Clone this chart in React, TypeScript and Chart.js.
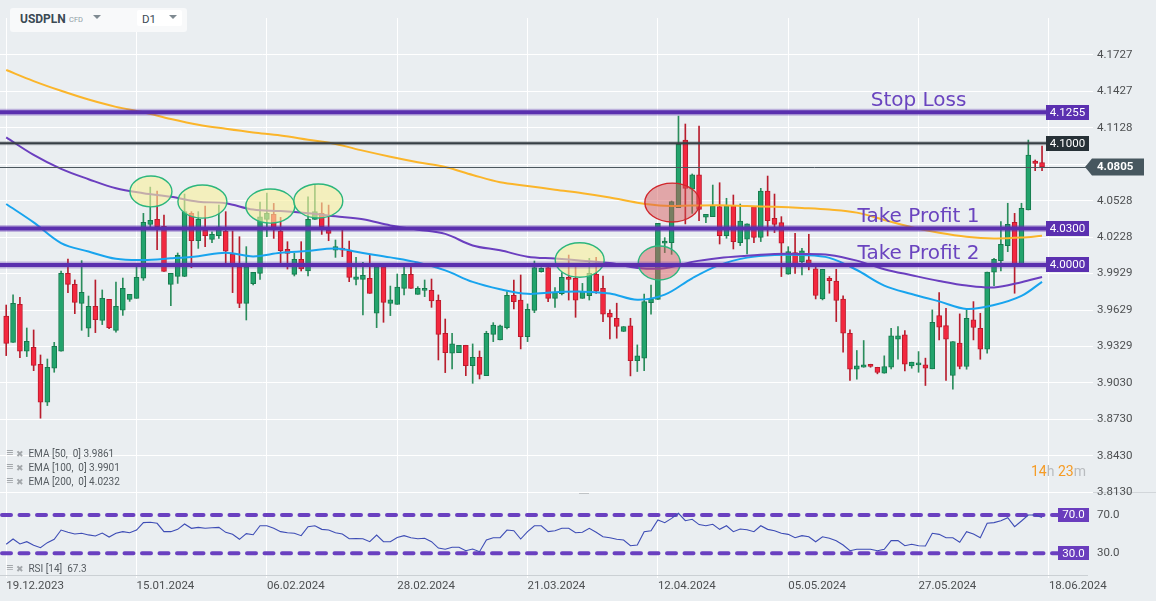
import React, { useEffect, useRef } from 'react';
import { Chart, registerables } from 'chart.js';

Chart.register(...registerables);

// ---------- data ----------
const dateLabels = ['19.12.2023', '15.01.2024', '06.02.2024', '28.02.2024', '21.03.2024', '12.04.2024', '05.05.2024', '27.05.2024', '18.06.2024'];
const dateTickDays = [0, 19, 38, 57, 76, 95, 114, 133, 152];
const priceTicks = [3.813, 3.843, 3.873, 3.903, 3.9329, 3.9629, 3.9929, 4.0228, 4.0528, 4.0828, 4.1128, 4.1427, 4.1727];

const opens = [
  3.9580, 3.9363, 3.9676, 3.9290, 3.9322, 3.9183, 3.8870, 3.9150, 3.9290, 3.9931,
  3.9840, 3.9684, 3.9479, 3.9659, 3.9544, 3.9717, 3.9462, 3.9627, 3.9717, 3.9725,
  3.9890, 4.0333, 4.0374, 4.0317, 3.9840, 3.9906, 3.9906, 4.0424, 4.0199, 4.0287,
  4.0210, 4.0240, 4.0279, 4.0090, 3.9985, 3.9684, 3.9846, 3.9931, 4.0374, 4.0416,
  4.0279, 4.0128, 3.9922, 4.0046, 3.9950, 4.0374, 4.0424, 4.0287, 4.0122, 4.0136,
  4.0114, 3.9881, 3.9881, 3.9890, 3.9602, 3.9985, 3.9684, 3.9676, 3.9807, 3.9922,
  3.9758, 3.9791, 3.9791, 3.9709, 3.9437, 3.9273, 3.9278, 3.9339, 3.9172, 3.9240,
  3.9089, 3.9429, 3.9383, 3.9484, 3.9750, 3.9711, 3.9410, 3.9626, 3.9944, 3.9977,
  3.9725, 3.9763, 3.9898, 3.9890, 3.9725, 3.9747, 3.9925, 3.9808, 3.9602, 3.9561,
  3.9452, 3.9498, 3.9213, 3.9233, 3.9690, 3.9717, 4.0178, 4.0183, 4.0471, 4.1027,
  4.0622, 4.0740, 4.0392, 4.0397, 4.0479, 4.0241, 4.0485, 4.0183, 4.0211, 4.0479,
  4.0227, 4.0608, 4.0383, 4.0348, 3.9923, 4.0101, 4.0024, 4.0041, 3.9967, 3.9720,
  3.9890, 3.9868, 3.9718, 3.9438, 3.9142, 3.9158, 3.9183, 3.9158, 3.9109, 3.9158,
  3.9389, 3.9424, 3.9170, 3.9178, 3.9178, 3.9145, 3.9583, 3.9501, 3.9090, 3.9356,
  3.9164, 3.9548, 3.9479, 3.9306, 3.9940, 4.0035, 4.0159, 4.0350, 4.0000, 4.0452,
  4.0855, 4.0841,
];
const highs = [
  3.9670, 3.9753, 3.9733, 3.9481, 3.9465, 3.9259, 3.9226, 3.9363, 3.9950, 4.0048,
  3.9876, 4.0035, 3.9744, 3.9876, 3.9794, 3.9717, 3.9859, 3.9892, 3.9758, 4.0013,
  4.0424, 4.0640, 4.0607, 4.0410, 3.9931, 4.0098, 4.0583, 4.0438, 4.0438, 4.0484,
  4.0273, 4.0492, 4.0438, 4.0279, 4.0232, 4.0150, 3.9939, 4.0517, 4.0591, 4.0506,
  4.0391, 4.0191, 4.0095, 4.0191, 4.0561, 4.0662, 4.0511, 4.0492, 4.0205, 4.0287,
  4.0196, 4.0062, 4.0021, 4.0081, 3.9985, 3.9985, 3.9826, 3.9925, 3.9985, 4.0013,
  3.9821, 3.9876, 3.9884, 3.9753, 3.9555, 3.9437, 3.9339, 3.9339, 3.9350, 3.9292,
  3.9454, 3.9525, 3.9506, 3.9780, 3.9876, 3.9917, 3.9679, 4.0032, 3.9977, 3.9977,
  3.9813, 3.9936, 4.0081, 3.9980, 3.9848, 4.0054, 4.0062, 3.9909, 3.9630, 3.9685,
  3.9493, 3.9561, 3.9342, 3.9761, 3.9835, 4.0342, 4.0224, 4.0526, 4.1224, 4.1159,
  4.0748, 4.1142, 4.0416, 4.0657, 4.0676, 4.0548, 4.0575, 4.0501, 4.0337, 4.0479,
  4.0630, 4.0731, 4.0583, 4.0397, 4.0150, 4.0260, 4.0137, 4.0252, 4.0013, 3.9964,
  3.9904, 3.9964, 3.9745, 3.9465, 3.9296, 3.9378, 3.9183, 3.9158, 3.9252, 3.9479,
  3.9493, 3.9460, 3.9200, 3.9287, 3.9233, 3.9630, 3.9772, 3.9643, 3.9370, 3.9597,
  3.9630, 3.9698, 3.9602, 3.9940, 4.0054, 4.0356, 4.0507, 4.0424, 4.0507, 4.1027,
  4.0863, 4.0978,
];
const lows = [
  3.9254, 3.9363, 3.9237, 3.9246, 3.9130, 3.8739, 3.8843, 3.9117, 3.9290, 3.9772,
  3.9599, 3.9462, 3.9410, 3.9443, 3.9509, 3.9476, 3.9446, 3.9585, 3.9700, 3.9725,
  3.9873, 4.0314, 4.0125, 3.9947, 3.9665, 3.9848, 3.9903, 3.9977, 4.0136, 4.0150,
  4.0183, 4.0218, 4.0018, 3.9772, 3.9648, 3.9547, 3.9835, 3.9881, 4.0232, 4.0218,
  4.0016, 3.9966, 3.9909, 3.9950, 3.9909, 4.0374, 4.0251, 4.0199, 4.0062, 4.0068,
  3.9862, 3.9835, 3.9588, 3.9766, 3.9484, 3.9528, 3.9583, 3.9676, 3.9753, 3.9807,
  3.9758, 3.9739, 3.9651, 3.9218, 3.9114, 3.9144, 3.9278, 3.9089, 3.9026, 3.9062,
  3.9089, 3.9369, 3.9383, 3.9473, 3.9637, 3.9309, 3.9369, 3.9607, 3.9940, 3.9698,
  3.9651, 3.9753, 3.9711, 3.9569, 3.9725, 3.9711, 3.9766, 3.9534, 3.9391, 3.9397,
  3.9452, 3.9087, 3.9123, 3.9131, 3.9594, 3.9717, 4.0101, 4.0087, 4.0471, 4.0337,
  4.0424, 4.0364, 4.0348, 4.0397, 4.0172, 4.0219, 4.0131, 4.0159, 4.0090, 4.0183,
  4.0192, 4.0238, 4.0266, 3.9904, 3.9923, 3.9931, 3.9918, 3.9959, 3.9720, 3.9712,
  3.9767, 3.9534, 3.9282, 3.9049, 3.9060, 3.9158, 3.9158, 3.9104, 3.9109, 3.9145,
  3.9224, 3.9128, 3.9150, 3.9117, 3.9008, 3.9145, 3.9383, 3.9049, 3.8978, 3.9145,
  3.9142, 3.9383, 3.9224, 3.9274, 3.9830, 3.9950, 4.0109, 3.9767, 4.0000, 4.0452,
  4.0775, 4.0775,
];
const closes = [
  3.9355, 3.9684, 3.9290, 3.9372, 3.9174, 3.8870, 3.9158, 3.9331, 3.9931, 3.9840,
  3.9692, 3.9774, 3.9659, 3.9550, 3.9725, 3.9484, 3.9659, 3.9807, 3.9758, 3.9898,
  4.0350, 4.0366, 4.0314, 3.9947, 3.9931, 4.0079, 4.0438, 4.0199, 4.0374, 4.0240,
  4.0251, 4.0314, 4.0114, 3.9983, 3.9684, 3.9985, 3.9939, 4.0396, 4.0424, 4.0287,
  4.0117, 4.0095, 4.0046, 3.9966, 4.0374, 4.0438, 4.0314, 4.0259, 4.0150, 4.0122,
  3.9898, 3.9901, 3.9914, 3.9766, 3.9985, 3.9692, 3.9712, 3.9818, 3.9922, 3.9807,
  3.9807, 3.9807, 3.9703, 3.9429, 3.9278, 3.9350, 3.9339, 3.9172, 3.9240, 3.9100,
  3.9437, 3.9506, 3.9498, 3.9750, 3.9698, 3.9410, 3.9635, 3.9977, 3.9972, 3.9725,
  3.9772, 3.9898, 3.9881, 3.9709, 3.9780, 3.9931, 3.9785, 3.9594, 3.9570, 3.9493,
  3.9493, 3.9213, 3.9252, 3.9698, 3.9717, 4.0342, 4.0197, 4.0520, 4.0992, 4.0630,
  4.0740, 4.0457, 4.0416, 4.0485, 4.0241, 4.0485, 4.0192, 4.0361, 4.0337, 4.0227,
  4.0608, 4.0364, 4.0334, 4.0178, 4.0109, 3.9986, 4.0115, 3.9999, 3.9748, 3.9964,
  3.9871, 3.9707, 3.9438, 3.9142, 3.9169, 3.9178, 3.9164, 3.9115, 3.9164, 3.9416,
  3.9416, 3.9183, 3.9200, 3.9191, 3.9150, 3.9528, 3.9487, 3.9389, 3.9370, 3.9164,
  3.9561, 3.9485, 3.9306, 3.9940, 4.0046, 4.0170, 4.0334, 4.0000, 4.0466, 4.0904,
  4.0835, 4.0805,
];

const emaDays = [0, 4, 8, 12, 16, 20, 24, 28, 32, 36, 40, 44, 48, 52, 56, 60, 64, 68, 72, 76, 80, 84, 88, 92, 96, 100, 104, 108, 112, 116, 120, 124, 128, 132, 136, 140, 144, 148, 151];
const ema50 = [4.0501, 4.0350, 4.0180, 4.0110, 4.0050, 4.0040, 4.0054, 4.0072, 4.0100, 4.0070, 4.0100, 4.0115, 4.0135, 4.0098, 4.0062, 4.0020, 3.9955, 3.9860, 3.9800, 3.9762, 3.9775, 3.9780, 3.9765, 3.9713, 3.9755, 3.9890, 4.0000, 4.0060, 4.0082, 4.0081, 4.0058, 3.9958, 3.9830, 3.9760, 3.9700, 3.9638, 3.9670, 3.9745, 3.9861];
const ema100 = [4.1049, 4.0905, 4.0790, 4.0705, 4.0630, 4.0590, 4.0560, 4.0520, 4.0507, 4.0455, 4.0443, 4.0425, 4.0400, 4.0375, 4.0325, 4.0290, 4.0255, 4.0160, 4.0120, 4.0068, 4.0052, 4.0035, 4.0015, 3.9975, 3.9972, 4.0025, 4.0057, 4.0075, 4.0090, 4.0090, 4.0082, 4.0035, 3.9965, 3.9915, 3.9868, 3.9830, 3.9815, 3.9858, 3.9901];
const ema200 = [4.1603, 4.1512, 4.1432, 4.1360, 4.1300, 4.1255, 4.1200, 4.1153, 4.1120, 4.1090, 4.1065, 4.1030, 4.0995, 4.0940, 4.0890, 4.0845, 4.0805, 4.0740, 4.0680, 4.0650, 4.0618, 4.0590, 4.0555, 4.0512, 4.0486, 4.0488, 4.0490, 4.0484, 4.0478, 4.0468, 4.0455, 4.0430, 4.0370, 4.0310, 4.0265, 4.0232, 4.0218, 4.0225, 4.0240];

const rsi14 = [
  39.4, 44.9, 39.7, 42.1, 38.5, 35.8, 41.1, 44.6, 54.3, 52.0,
  50.1, 50.9, 49.2, 48.1, 51.2, 47.0, 50.9, 52.6, 51.5, 54.3,
  62.0, 62.4, 61.3, 52.6, 52.6, 55.0, 60.6, 56.1, 57.1, 56.1,
  56.6, 57.1, 51.9, 49.8, 44.6, 50.5, 49.4, 58.8, 58.8, 56.1,
  52.6, 51.5, 51.0, 48.4, 57.8, 58.8, 55.0, 54.3, 51.5, 50.1,
  45.2, 45.5, 45.2, 42.1, 49.1, 42.1, 42.1, 46.5, 48.4, 46.3,
  45.2, 45.7, 42.1, 35.5, 34.2, 36.3, 36.3, 32.7, 34.5, 31.7,
  43.9, 46.3, 46.3, 54.3, 53.6, 44.9, 52.6, 58.8, 58.8, 52.6,
  53.6, 56.1, 56.1, 51.5, 52.0, 56.1, 51.9, 47.3, 46.3, 44.6,
  43.9, 37.9, 38.7, 52.6, 53.6, 64.8, 62.0, 66.5, 71.8, 64.0,
  65.5, 60.0, 58.8, 60.3, 55.0, 58.8, 52.6, 55.4, 54.6, 52.6,
  58.8, 55.0, 53.6, 50.9, 49.8, 46.3, 48.4, 47.3, 42.1, 47.3,
  45.7, 43.2, 38.7, 32.7, 34.2, 34.2, 34.2, 32.7, 34.2, 43.2,
  43.2, 37.9, 39.4, 37.9, 37.6, 50.9, 49.8, 46.3, 46.3, 41.5,
  52.6, 50.1, 46.3, 61.3, 62.0, 64.0, 67.2, 57.8, 63.7, 70.0,
  70.0, 67.3,
];
const rsiLevels = [70, 30];

const levelPrices = [4.1255, 4.03, 4.0];
const levelNames = ['Stop Loss', 'Take Profit 1', 'Take Profit 2'];
const markPrice = 4.1;
const lastPrice = 4.0805;

// highlighted zones (centre day / price, half-size in days / price)
const zoneDay = [21.1, 28.6, 38.5, 45.5, 83.6, 97.1, 95.2];
const zonePrice = [4.0604, 4.0521, 4.0484, 4.0526, 4.004, 4.0513, 4.0016];
const zoneHalfDays = [3.06, 3.57, 3.57, 3.57, 3.57, 4.0, 3.06];
const zoneHalfPrice = [0.0127, 0.0136, 0.014, 0.014, 0.0142, 0.016, 0.014];
const zoneKind = ['yellow', 'yellow', 'yellow', 'yellow', 'yellow', 'redEdge', 'greenEdge'];

// ---------- axis ranges ----------
const X_MIN = -0.904;
const X_MAX = 152.16;
const Y_MIN = 3.8132;
const Y_MAX = 4.2031;
const RSI_MIN = 7.35;
const RSI_MAX = 94;

const FONT = 'Roboto';
const AXIS_TEXT = '#4d4f51';
const PURPLE = '#5a2fae';

function boxLabel(ctx: CanvasRenderingContext2D, text: string, x0: number, cy: number, w: number, h: number, bg: string, bold = false) {
  ctx.fillStyle = bg;
  ctx.fillRect(x0, Math.round(cy - h / 2), w, h);
  ctx.fillStyle = '#ffffff';
  ctx.font = `${bold ? 'bold ' : ''}11.5px ${FONT}`;
  ctx.textAlign = 'center';
  ctx.textBaseline = 'middle';
  ctx.fillText(text, x0 + w / 2, cy + 0.5);
}

function hLine(ctx: CanvasRenderingContext2D, x0: number, x1: number, y: number, width: number, color: string) {
  ctx.beginPath();
  ctx.moveTo(x0, y);
  ctx.lineTo(x1, y);
  ctx.lineWidth = width;
  ctx.strokeStyle = color;
  ctx.stroke();
}

const mainOverlay = {
  id: 'mainOverlay',
  afterDatasetsDraw(chart: any) {
    const { ctx, chartArea: a, scales } = chart;
    const x = scales.x;
    const y = scales.y;
    ctx.save();
    ctx.beginPath();
    ctx.rect(a.left, a.top, a.right - a.left, a.bottom - a.top);
    ctx.clip();
    zoneDay.forEach((d, k) => {
      const cx = x.getPixelForValue(d);
      const cy = y.getPixelForValue(zonePrice[k]);
      const rx = Math.abs(x.getPixelForValue(d + zoneHalfDays[k]) - cx);
      const ry = Math.abs(y.getPixelForValue(zonePrice[k] - zoneHalfPrice[k]) - cy);
      ctx.beginPath();
      ctx.ellipse(cx, cy, rx, ry, 0, 0, Math.PI * 2);
      const kind = zoneKind[k];
      ctx.fillStyle = kind === 'yellow' ? 'rgba(248,239,156,0.62)' : 'rgba(214,84,84,0.47)';
      ctx.fill();
      ctx.lineWidth = 1.4;
      ctx.strokeStyle = kind === 'redEdge' ? '#d0262c' : '#2cb67d';
      ctx.stroke();
    });
    ctx.restore();

    ctx.save();
    const boxLeft = a.right - 4;
    // last price line
    const ly = Math.round(y.getPixelForValue(lastPrice)) + 0.5;
    hLine(ctx, a.left, a.right + 36, ly, 1, '#4c575e');
    // 4.1000 mark line
    const my = y.getPixelForValue(markPrice);
    hLine(ctx, a.left, boxLeft, my, 4, 'rgba(55,64,70,0.3)');
    hLine(ctx, a.left, boxLeft, my, 2, '#373f45');
    // trade levels
    levelPrices.forEach((p) => {
      const py = y.getPixelForValue(p);
      hLine(ctx, a.left, boxLeft, py, 7, 'rgba(92,50,176,0.32)');
      hLine(ctx, a.left, boxLeft, py, 4, PURPLE);
    });
    ctx.font = '20px "DejaVu Sans"';
    ctx.fillStyle = '#6a44bf';
    ctx.textAlign = 'center';
    ctx.textBaseline = 'alphabetic';
    levelPrices.forEach((p, k) => {
      ctx.fillText(levelNames[k], x.getPixelForValue(133), y.getPixelForValue(p) - 6);
    });
    ctx.restore();
  },
  afterDraw(chart: any) {
    const { ctx, chartArea: a, scales } = chart;
    const y = scales.y;
    ctx.save();
    const boxLeft = a.right - 4;
    levelPrices.forEach((p) => boxLabel(ctx, p.toFixed(4), boxLeft, y.getPixelForValue(p), 43, 15, '#5b30b0'));
    boxLabel(ctx, markPrice.toFixed(4), boxLeft, y.getPixelForValue(markPrice), 43, 15, '#263036');
    // current price arrow label
    const cy = y.getPixelForValue(lastPrice);
    const tip = a.right + 35;
    ctx.fillStyle = '#47575f';
    ctx.beginPath();
    ctx.moveTo(tip, cy);
    ctx.lineTo(tip + 7, cy - 8.5);
    ctx.lineTo(a.right + 94, cy - 8.5);
    ctx.lineTo(a.right + 94, cy + 8.5);
    ctx.lineTo(tip + 7, cy + 8.5);
    ctx.closePath();
    ctx.fill();
    ctx.fillStyle = '#ffffff';
    ctx.font = `bold 11.5px ${FONT}`;
    ctx.textAlign = 'left';
    ctx.textBaseline = 'middle';
    ctx.fillText(lastPrice.toFixed(4), a.right + 47, cy + 0.5);
    ctx.restore();
  },
};

const rsiOverlay = {
  id: 'rsiOverlay',
  beforeDatasetsDraw(chart: any) {
    const { ctx, chartArea: a, scales } = chart;
    const y = scales.y;
    ctx.save();
    ctx.setLineDash([9, 8.5]);
    ctx.lineCap = 'round';
    rsiLevels.forEach((v) => {
      hLine(ctx, a.left + 2, a.right + 8, y.getPixelForValue(v), 4, '#6a40c0');
    });
    ctx.restore();
  },
  afterDraw(chart: any) {
    const { ctx, chartArea: a, scales, width } = chart;
    const y = scales.y;
    ctx.save();
    rsiLevels.forEach((v) => boxLabel(ctx, v.toFixed(1), a.right + 8, y.getPixelForValue(v), 31, 14, '#6a3dbd'));
    hLine(ctx, 0, width, 0.5, 1, '#d2d6da');
    ctx.fillStyle = '#bfc3c6';
    ctx.fillRect(579, 0, 10, 2);
    hLine(ctx, a.left, a.right + 38, Math.round(a.bottom) + 0.5, 1, '#cbd0d4');
    ctx.restore();
  },
};

export default function App() {
  const mainRef = useRef<HTMLCanvasElement>(null);
  const rsiRef = useRef<HTMLCanvasElement>(null);

  useEffect(() => {
    const days = opens.map((_, i) => i);
    const up = days.map((i) => closes[i] >= opens[i]);

    const main = new Chart(mainRef.current as HTMLCanvasElement, {
      type: 'bar',
      data: {
        datasets: [
          {
            type: 'line', label: 'EMA 200',
            data: emaDays.map((d, k) => ({ x: d, y: ema200[k] })),
            borderColor: '#fbb52a', borderWidth: 2, pointRadius: 0, tension: 0.35, order: 1,
          } as any,
          {
            type: 'line', label: 'EMA 100',
            data: emaDays.map((d, k) => ({ x: d, y: ema100[k] })),
            borderColor: '#6b3fbf', borderWidth: 2, pointRadius: 0, tension: 0.35, order: 1,
          },
          {
            type: 'line', label: 'EMA 50',
            data: emaDays.map((d, k) => ({ x: d, y: ema50[k] })),
            borderColor: '#18a4ee', borderWidth: 2, pointRadius: 0, tension: 0.35, order: 1,
          },
          {
            type: 'bar', label: 'body',
            data: days.map((i) => ({ x: i, y: [opens[i], closes[i]] })),
            backgroundColor: up.map((u) => (u ? '#22a36c' : '#f3283f')),
            borderColor: up.map((u) => (u ? '#177a4d' : '#bb1a2c')),
            borderWidth: 1, borderSkipped: false, barThickness: 5, minBarLength: 2,
            grouped: false, order: 2,
          },
          {
            type: 'bar', label: 'wick',
            data: days.map((i) => ({ x: i, y: [lows[i], highs[i]] })),
            backgroundColor: up.map((u) => (u ? '#2a8d5c' : '#b81d2d')),
            borderWidth: 0, barThickness: 1, grouped: false, order: 3,
          },
        ],
      } as any,
      options: {
        responsive: false,
        animation: false,
        events: [],
        layout: { padding: { top: 18, bottom: 8, left: 0, right: 0 } },
        plugins: { legend: { display: false }, tooltip: { enabled: false } },
        scales: {
          x: {
            type: 'linear', min: X_MIN, max: X_MAX, offset: false,
            grid: { color: '#ffffff', lineWidth: 1, drawTicks: false, offset: false },
            border: { display: false },
            ticks: { display: false },
            afterBuildTicks: (s: any) => { s.ticks = dateTickDays.map((v) => ({ value: v })); },
            afterFit: (s: any) => { s.height = 0; s.paddingLeft = 0; s.paddingRight = 0; },
          },
          y: {
            type: 'linear', position: 'right', min: Y_MIN, max: Y_MAX,
            grid: { color: '#ffffff', lineWidth: 1, drawTicks: true, tickLength: 43 },
            border: { display: false },
            ticks: {
              padding: 4, color: AXIS_TEXT, font: { family: FONT, size: 11.5 }, autoSkip: false,
              callback: (v: any) => Number(v).toFixed(4),
            },
            afterBuildTicks: (s: any) => { s.ticks = priceTicks.map((v) => ({ value: v })); },
            afterFit: (s: any) => { s.width = 106; s.paddingTop = 0; s.paddingBottom = 0; },
          },
        },
      } as any,
      plugins: [mainOverlay],
    });

    const sub = new Chart(rsiRef.current as HTMLCanvasElement, {
      type: 'line',
      data: {
        datasets: [
          {
            label: 'RSI 14',
            data: days.map((i) => ({ x: i, y: rsi14[i] })),
            borderColor: '#3d4cb5', borderWidth: 1.1, pointRadius: 0, tension: 0,
          },
        ],
      },
      options: {
        responsive: false,
        animation: false,
        events: [],
        layout: { padding: 0 },
        plugins: { legend: { display: false }, tooltip: { enabled: false } },
        scales: {
          x: {
            type: 'linear', min: X_MIN, max: X_MAX, offset: false,
            grid: { color: '#ffffff', lineWidth: 1, drawTicks: true, tickLength: 3 },
            border: { display: false },
            ticks: {
              align: 'start', padding: 1, color: AXIS_TEXT, font: { family: FONT, size: 11.5 },
              autoSkip: false, maxRotation: 0, minRotation: 0,
              callback: (_v: any, i: number) => dateLabels[i],
            },
            afterBuildTicks: (s: any) => { s.ticks = dateTickDays.map((v) => ({ value: v })); },
            afterFit: (s: any) => { s.height = 26; s.paddingLeft = 0; s.paddingRight = 0; },
          },
          y: {
            type: 'linear', position: 'right', min: RSI_MIN, max: RSI_MAX,
            grid: { display: false, drawTicks: false },
            border: { display: false },
            ticks: {
              padding: 47, color: AXIS_TEXT, font: { family: FONT, size: 11.5 },
              callback: (v: any) => Number(v).toFixed(1),
            },
            afterBuildTicks: (s: any) => { s.ticks = rsiLevels.map((v) => ({ value: v })); },
            afterFit: (s: any) => { s.width = 106; s.paddingTop = 0; s.paddingBottom = 0; },
          },
        },
      } as any,
      plugins: [rsiOverlay],
    });

    return () => {
      main.destroy();
      sub.destroy();
    };
  }, []);

  const legendRow = (text: string, top: number) => (
    <div key={text} style={{ position: 'absolute', left: 6, top, height: 14, lineHeight: '14px', whiteSpace: 'pre', fontSize: 10, color: '#555b60' }}>
      <span style={{ color: '#a3a7ab', fontSize: 13, fontWeight: 'bold' }}>≡</span>
      <span style={{ color: '#a3a7ab', fontSize: 9, marginLeft: 3 }}>✖</span>
      <span style={{ marginLeft: 4 }}>{text}</span>
    </div>
  );

  const caret = (left: number) => (
    <div style={{ position: 'absolute', left, top: 15, width: 0, height: 0, borderLeft: '4px solid transparent', borderRight: '4px solid transparent', borderTop: '4px solid #7f8a91' }} />
  );

  return (
    <div style={{ position: 'fixed', left: 0, top: 0, width: 1156, height: 601, background: '#eaeef1', overflow: 'hidden', fontFamily: FONT }}>
      <canvas ref={rsiRef} width={1156} height={109} style={{ position: 'absolute', left: 0, top: 492, display: 'block' }} />
      <canvas ref={mainRef} width={1156} height={500} style={{ position: 'absolute', left: 0, top: 0, display: 'block' }} />

      <div style={{ position: 'absolute', left: 10, top: 8, width: 177, height: 24, background: '#f8f9fa', borderRadius: 3 }} />
      <div style={{ position: 'absolute', left: 137, top: 10, width: 45, height: 16, background: '#ffffff', borderRadius: 2 }} />
      <div style={{ position: 'absolute', left: 20, top: 12, lineHeight: '15px', fontSize: 12, fontWeight: 'bold', color: '#3b4a54' }}>USDPLN</div>
      <div style={{ position: 'absolute', left: 69, top: 14, lineHeight: '11px', fontSize: 7.5, color: '#8f9ca5' }}>CFD</div>
      {caret(93)}
      <div style={{ position: 'absolute', left: 142, top: 12, lineHeight: '15px', fontSize: 11.5, color: '#3b4a54' }}>D1</div>
      {caret(169)}

      {legendRow('EMA [50,  0] 3.9861', 446)}
      {legendRow('EMA [100,  0] 3.9901', 460)}
      {legendRow('EMA [200,  0] 4.0232', 474)}
      {legendRow('RSI [14]  67.3', 561)}

      <div style={{ position: 'absolute', left: 1031, top: 462, lineHeight: '18px', fontSize: 14, whiteSpace: 'pre' }}>
        <span style={{ color: '#f59b25' }}>14</span>
        <span style={{ color: '#b9bcbf' }}>h </span>
        <span style={{ color: '#f59b25' }}>23</span>
        <span style={{ color: '#b9bcbf' }}>m</span>
      </div>
    </div>
  );
}
